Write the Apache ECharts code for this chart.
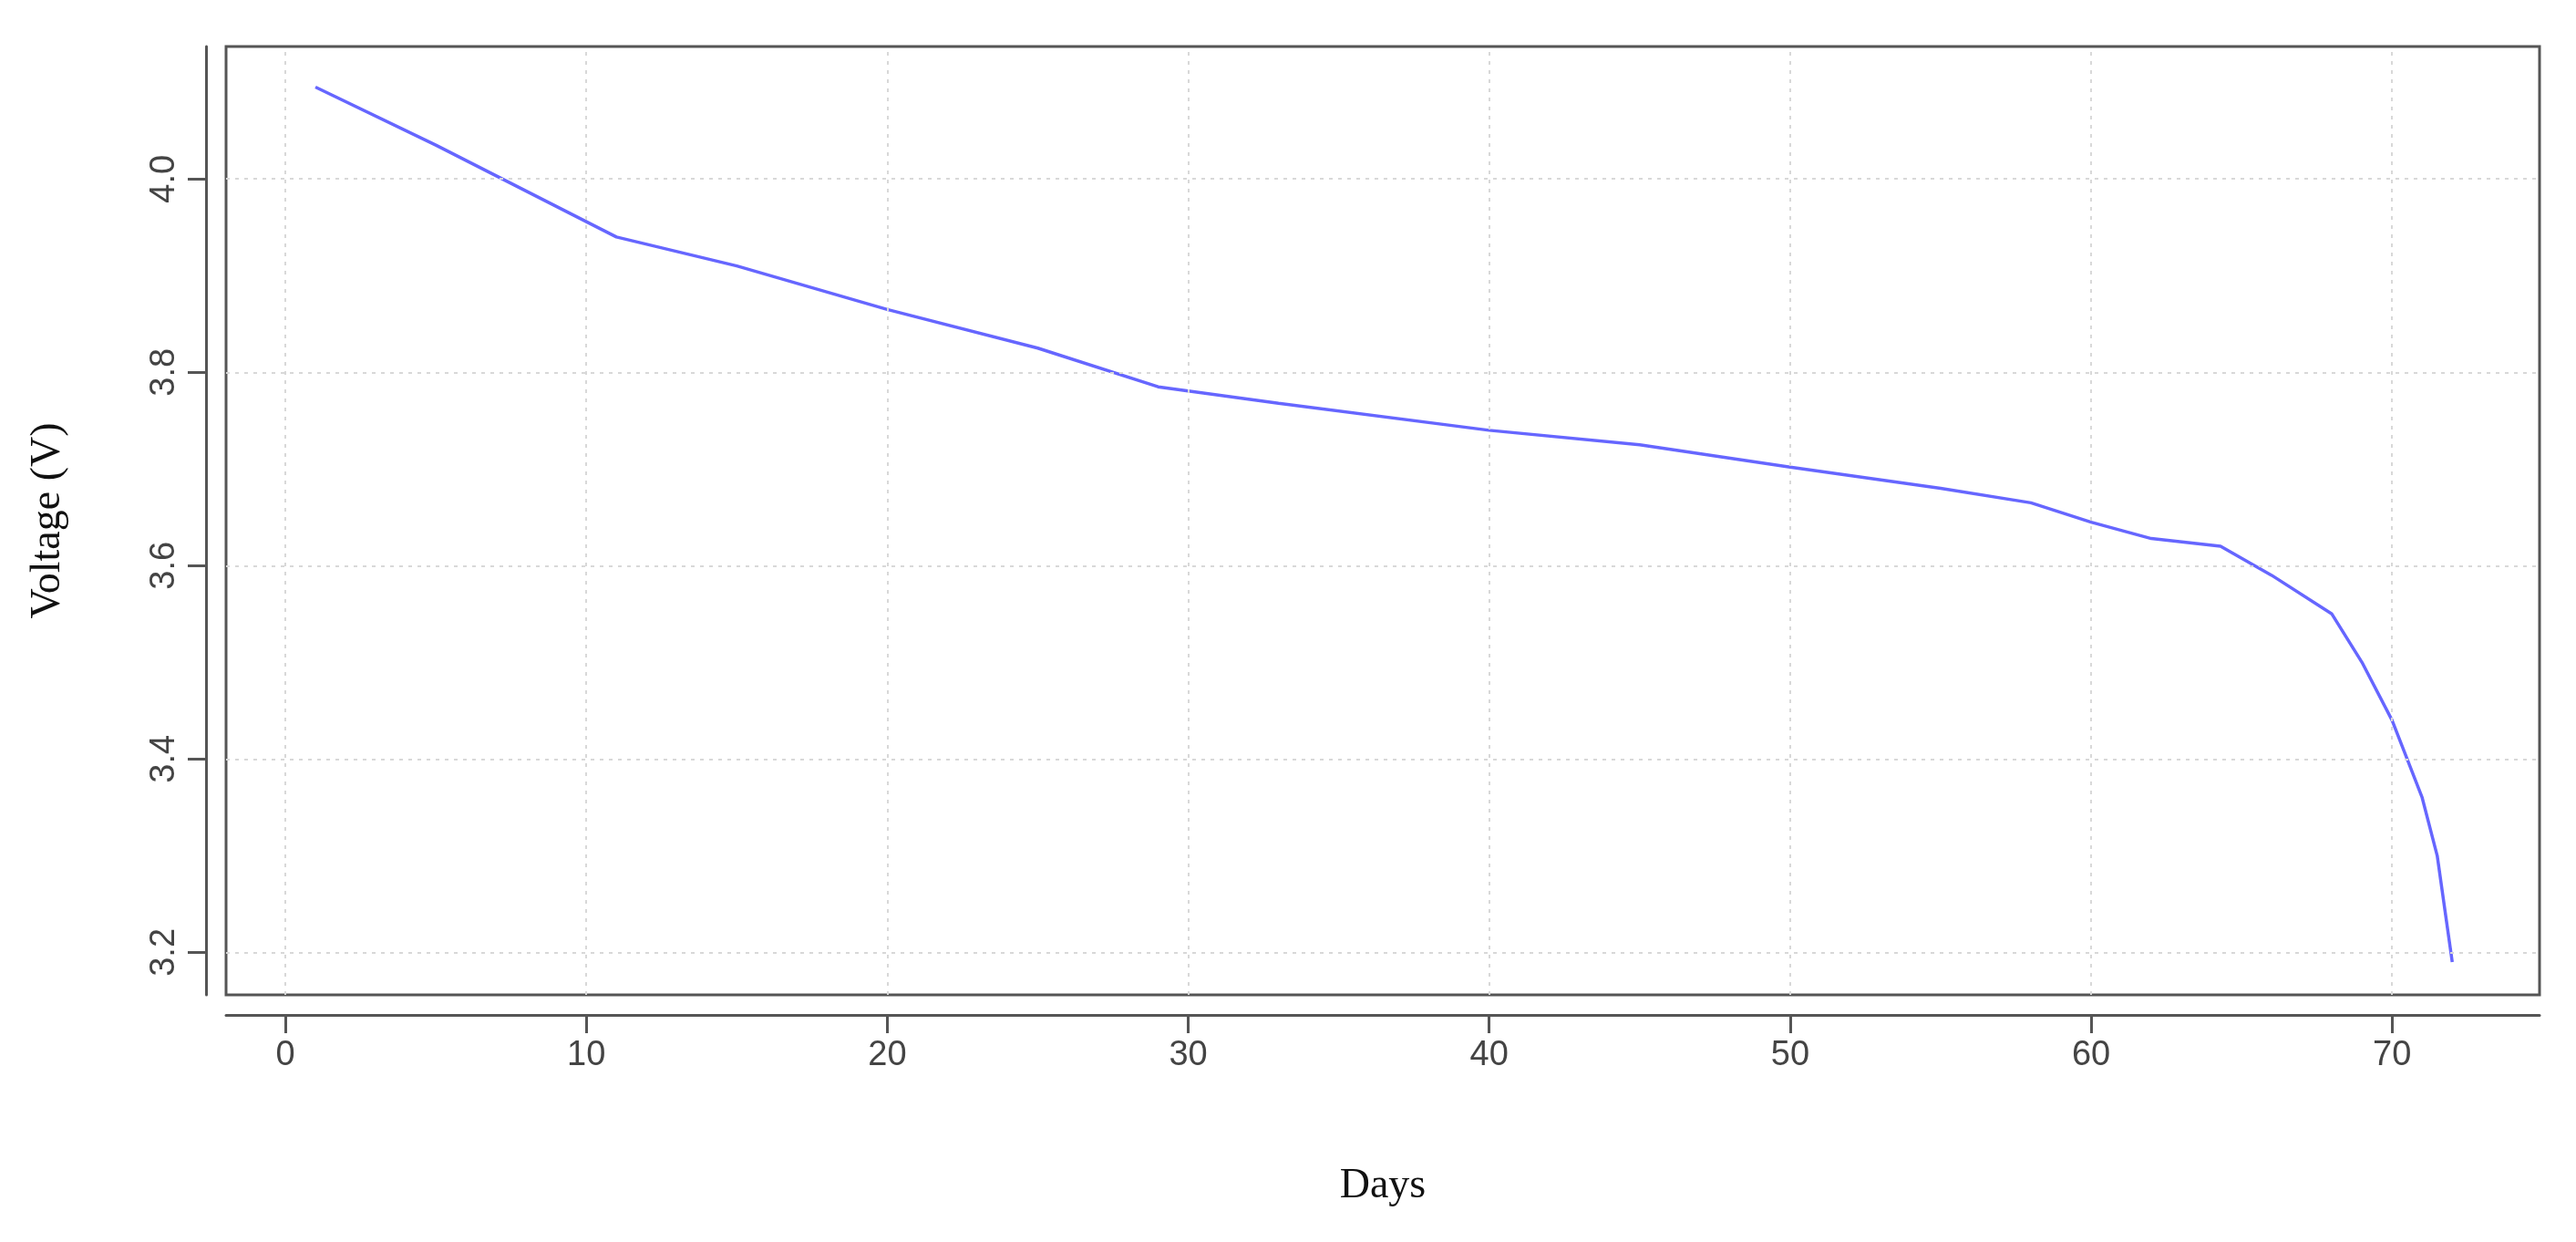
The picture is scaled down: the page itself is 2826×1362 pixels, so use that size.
<!DOCTYPE html>
<html>
<head>
<meta charset="UTF-8">
<script src="https://cdn.jsdelivr.net/npm/echarts@6/dist/echarts.min.js"></script>
<style>
  html,body{margin:0;padding:0;width:100%;height:100%;background:#fff;overflow:hidden}
  #chart{width:2826px;height:1362px}
</style>
</head>
<body>
<div id="chart"></div>
<script>
const days = [1, 5, 11, 15, 20, 25, 29, 33, 40, 45, 50, 55, 58, 60, 62, 64.3, 66, 68, 69, 70, 71, 71.5, 72];
const voltage = [4.095, 4.035, 3.94, 3.91, 3.865, 3.825, 3.785, 3.768, 3.74, 3.725, 3.702, 3.68, 3.665, 3.645, 3.628, 3.62, 3.59, 3.55, 3.5, 3.44, 3.36, 3.3, 3.19];
const xTicks = [0, 10, 20, 30, 40, 50, 60, 70];
const yTicks = [3.2, 3.4, 3.6, 3.8, 4.0];

const chart = echarts.init(document.getElementById('chart'));
const tickFont = {fontFamily: 'Liberation Sans', fontSize: 38, color: '#444'};
chart.setOption({
  animation: false,
  grid: {left: 248, right: 40, top: 51, bottom: 271, show: true, borderColor: '#555', borderWidth: 3},
  xAxis: {
    type: 'value', min: -1.97, max: 74.9,
    name: 'Days', nameLocation: 'middle', nameGap: 165,
    nameTextStyle: {fontFamily: 'Liberation Serif', fontSize: 46, color: '#111'},
    offset: 22,
    axisLine: {show: true, onZero: false, lineStyle: {color: '#555', width: 3}},
    axisTick: {show: true, length: 20, customValues: xTicks, lineStyle: {color: '#555', width: 3}},
    axisLabel: Object.assign({customValues: xTicks, margin: 26, formatter: v => String(v)}, tickFont),
    splitLine: {show: false}
  },
  yAxis: {
    type: 'value', min: 3.156, max: 4.137,
    name: 'Voltage (V)', nameLocation: 'middle', nameGap: 150,
    nameTextStyle: {fontFamily: 'Liberation Serif', fontSize: 46, color: '#111'},
    offset: 22,
    axisLine: {show: true, onZero: false, lineStyle: {color: '#555', width: 3}},
    axisTick: {show: true, length: 20, customValues: yTicks, lineStyle: {color: '#555', width: 3}},
    axisLabel: Object.assign({customValues: yTicks, margin: 26, rotate: 90, formatter: v => v.toFixed(1)}, tickFont),
    splitLine: {show: false}
  },
  series: [
    {
      type: 'line', data: days.map((d, i) => [d, voltage[i]]),
      showSymbol: false, smooth: false,
      lineStyle: {color: '#6666ff', width: 3.5}
    },
    {
      type: 'line', silent: true, showSymbol: false,
      markLine: {
        silent: true, symbol: 'none', label: {show: false},
        lineStyle: {color: '#d8d8d8', type: [4, 6], width: 2},
        data: xTicks.map(v => ({xAxis: v})).concat(yTicks.map(v => ({yAxis: v})))
      },
      data: []
    }
  ]
});
</script>
</body>
</html>
